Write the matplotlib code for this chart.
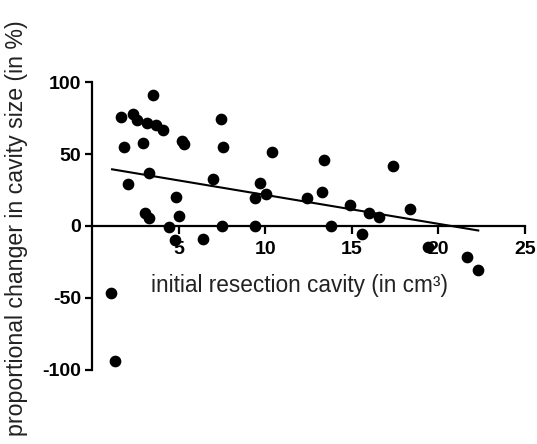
import matplotlib
matplotlib.use("Agg")
import matplotlib.pyplot as plt
import numpy as np

# initial resection cavity (cm3) vs proportional change (%)
cavity = [1.7, 2.35, 2.6, 3.2, 3.7, 4.1, 3.55, 1.83, 2.92, 5.2, 5.3, 7.44, 7.58,
          2.06, 3.27, 7.0, 3.07, 3.27, 4.84, 5.03, 4.42, 4.8, 6.43, 7.5,
          9.4, 9.4, 9.72, 10.03, 10.4, 12.4, 13.4, 13.3, 13.8, 14.9, 15.6,
          16.0, 16.55, 17.35, 18.36, 19.4, 21.65, 22.3, 1.12, 1.35]
change = [75.9, 78.0, 73.6, 71.8, 70.0, 66.7, 91.0, 54.6, 57.9, 59.0, 57.0, 74.0, 54.6,
          29.2, 36.6, 32.4, 9.3, 5.3, 19.9, 7.0, -1.0, -9.7, -9.3, 0.0,
          0.0, 19.2, 30.0, 22.0, 51.2, 19.7, 45.8, 23.8, 0.0, 14.6, -5.8,
          8.8, 6.0, 41.7, 11.8, -14.4, -21.3, -30.5, -46.7, -93.8]

# regression line
fit_range = [1.16, 22.3]
fit_slope = -2.01
fit_intercept = 41.7

xticks = [5, 10, 15, 20, 25]
yticks = [-100, -50, 0, 50, 100]

plt.rcParams['font.family'] = ['Liberation Sans', 'DejaVu Sans']
plt.rcParams['axes.unicode_minus'] = False

fig = plt.figure(figsize=(5.37, 4.44), dpi=100)
ax = fig.add_axes([0.1713, 0.1667, 0.8064, 0.6486])

ax.scatter(cavity, change, s=55, color='black', zorder=3, clip_on=False)
fx = np.array(fit_range)
ax.plot(fx, fit_intercept + fit_slope * fx, color='black', lw=1.5, zorder=2)

ax.set_xlim(0, 25)
ax.set_ylim(-100, 100)
ax.spines['top'].set_visible(False)
ax.spines['right'].set_visible(False)
ax.spines['bottom'].set_position(('data', 0))
for sp in ['left', 'bottom']:
    ax.spines[sp].set_linewidth(1.6)
ax.set_xticks(xticks)
ax.set_yticks(yticks)
ax.tick_params(width=1.6, labelsize=14)
ax.tick_params(axis='x', length=5.5, pad=5)
ax.tick_params(axis='y', length=5, pad=3)
for lbl in ax.get_xticklabels() + ax.get_yticklabels():
    lbl.set_fontweight('bold')

ax.text(0.48, 0.295, 'initial resection cavity (in cm³)', transform=ax.transAxes,
        ha='center', va='center', fontsize=16.3, color='#222222')
fig.text(0.03, 1 - 228 / 444, 'proportional changer in cavity size (in %)',
         rotation=90, ha='center', va='center', fontsize=16.7, color='#222222')

fig.savefig('out.png', dpi=100)
